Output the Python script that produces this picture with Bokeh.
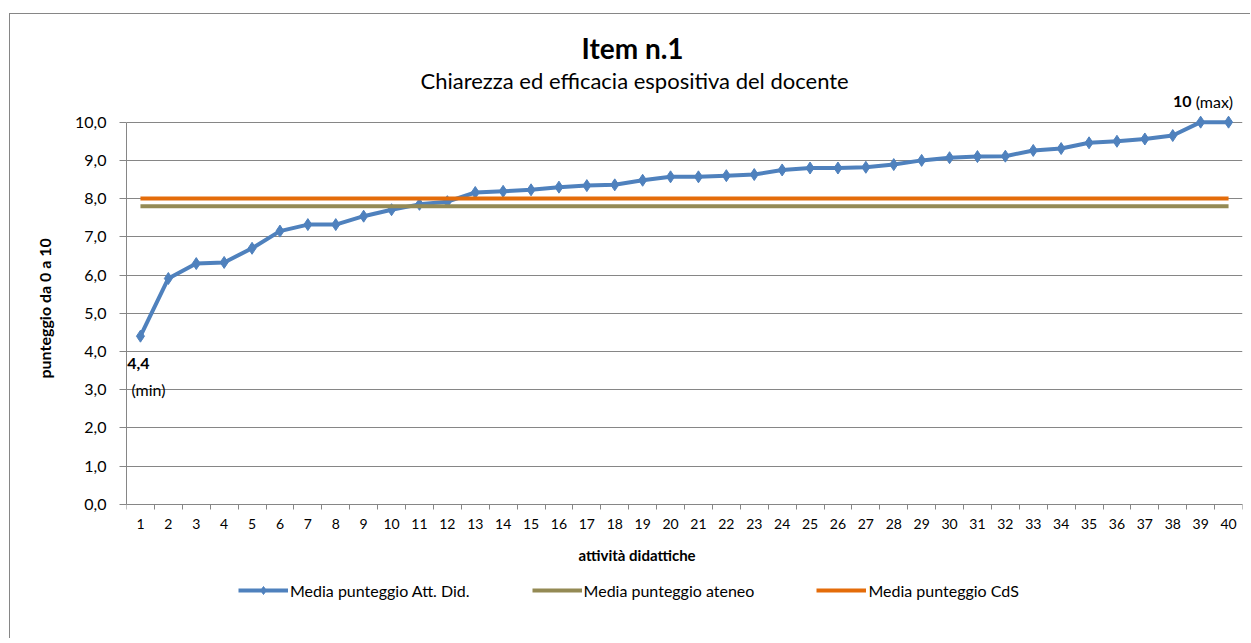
from bokeh.plotting import figure
from bokeh.models import FixedTicker, Legend, LegendItem, Label, Title, Range1d, ColumnDataSource
from bokeh.embed import file_html
from bokeh.resources import INLINE

# ---- data ----
categories = list(range(1, 41))
media_att_did = [4.40, 5.91, 6.30, 6.33, 6.70, 7.15, 7.32, 7.32, 7.54, 7.71,
                 7.85, 7.92, 8.16, 8.19, 8.23, 8.30, 8.34, 8.36, 8.48, 8.57,
                 8.57, 8.60, 8.63, 8.75, 8.80, 8.80, 8.82, 8.89, 9.00, 9.07,
                 9.10, 9.11, 9.26, 9.31, 9.46, 9.50, 9.56, 9.65, 10.00, 10.00]
media_ateneo = [7.8] * 40
media_cds = [8.0] * 40
y_ticks = [0, 1, 2, 3, 4, 5, 6, 7, 8, 9, 10]
y_tick_labels = ["0,0", "1,0", "2,0", "3,0", "4,0", "5,0", "6,0", "7,0", "8,0", "9,0", "10,0"]
series_names = ["Media punteggio Att. Did.", "Media punteggio ateneo", "Media punteggio CdS"]
title_text = "Item n.1"
subtitle_text = "Chiarezza ed efficacia espositiva del docente"
x_label = "attività didattiche"
y_label = "punteggio da 0 a 10"
min_value_text, min_tag = "4,4", "(min)"
max_value_text, max_tag = "10", "(max)"

FONT = "Lato"
BLUE = "#4F81BD"
OLIVE = "#948A54"
ORANGE = "#E46C0A"
GRAY = "#868686"

src = ColumnDataSource(dict(x=categories, att=media_att_did, ateneo=media_ateneo, cds=media_cds))

# The frame is taller than the 0-10 scale: a little room above 10 for the "10 (max)" label and
# room below 0 for the x axis (pinned at 0), its title and the legend.
p = figure(frame_width=1116, frame_height=537, x_range=Range1d(0.5, 40.5), y_range=Range1d(-3.3, 10.75),
           output_backend="svg", toolbar_location=None,
           min_border_left=116, min_border_right=8, min_border_top=79, min_border_bottom=8)
p.margin = (13, 0, 0, 9)
p.styles = {"border-left": "1px solid #868686", "border-top": "1px solid #868686"}
p.outline_line_color = None
p.background_fill_color = "white"
p.border_fill_color = "white"

# titles (subtitle first, so the main title sits above it)
p.add_layout(Title(text=subtitle_text, align="left", offset=294, text_font=FONT, text_font_size="22px",
                   text_font_style="normal", text_color="black", standoff=0), "above")
p.add_layout(Title(text=title_text, align="left", offset=455, text_font=FONT, text_font_size="28px",
                   text_font_style="bold", text_color="black", standoff=0), "above")

# grid
p.xgrid.visible = False
p.ygrid.grid_line_color = GRAY
p.ygrid.grid_line_width = 1

# y axis
p.yaxis.ticker = FixedTicker(ticks=y_ticks, minor_ticks=[])
p.yaxis.bounds = (y_ticks[0], y_ticks[-1])
p.yaxis.major_label_overrides = {t: l for t, l in zip(y_ticks, y_tick_labels)}
p.yaxis.axis_line_color = GRAY
p.yaxis.major_tick_line_color = GRAY
p.yaxis.major_tick_out = 7
p.yaxis.major_tick_in = 0
p.yaxis.minor_tick_line_color = None
p.yaxis.major_label_text_font = FONT
p.yaxis.major_label_text_font_size = "16px"
p.yaxis.major_label_text_color = "black"
p.yaxis.major_label_standoff = 13

# y axis title (rotated, outside the tick labels)
p.add_layout(Title(text=y_label, align="left", offset=252, text_font=FONT, text_font_size="16px",
                   text_font_style="bold", text_color="black", standoff=37), "left")

# x axis, pinned at y = 0
p.xaxis.fixed_location = 0
p.xaxis.ticker = FixedTicker(ticks=categories, minor_ticks=[c - 0.5 for c in categories] + [categories[-1] + 0.5])
p.xaxis.axis_line_color = GRAY
p.xaxis.major_tick_line_color = None
p.xaxis.major_tick_out = 5
p.xaxis.major_tick_in = 0
p.xaxis.minor_tick_line_color = GRAY
p.xaxis.minor_tick_out = 5
p.xaxis.minor_tick_in = 0
p.xaxis.major_label_text_font = FONT
p.xaxis.major_label_text_font_size = "14px"
p.xaxis.major_label_text_color = "black"
p.xaxis.major_label_standoff = 10

# x axis title
p.add_layout(Label(x=18.8, y=0, y_offset=-51, text=x_label, text_font=FONT, text_font_size="15px",
                   text_font_style="bold", text_color="black", text_align="center",
                   text_baseline="middle"))

# series
r_att_line = p.line("x", "att", source=src, line_color=BLUE, line_width=4, line_join="round")
r_att_pts = p.scatter("x", "att", source=src, marker="diamond", size=12,
                      fill_color=BLUE, line_color=BLUE)
r_ateneo = p.line("x", "ateneo", source=src, line_color=OLIVE, line_width=4)
r_cds = p.line("x", "cds", source=src, line_color=ORANGE, line_width=4)

# data labels for min / max
imin = media_att_did.index(min(media_att_did))
imax = media_att_did.index(max(media_att_did))
p.add_layout(Label(x=categories[imin], y=media_att_did[imin], text=min_value_text, text_font=FONT,
                   text_font_size="16px", text_font_style="bold", text_color="black", text_align="center",
                   text_baseline="middle", x_offset=-2, y_offset=-27))
p.add_layout(Label(x=categories[imin], y=media_att_did[imin], text=min_tag, text_font=FONT,
                   text_font_size="16px", text_color="black", text_align="center",
                   text_baseline="middle", x_offset=8, y_offset=-53))
p.add_layout(Label(x=categories[imax], y=media_att_did[imax], text=max_value_text, text_font=FONT,
                   text_font_size="16px", text_font_style="bold", text_color="black", text_align="right",
                   text_baseline="middle", x_offset=-9, y_offset=21))
p.add_layout(Label(x=categories[imax], y=media_att_did[imax], text=max_tag, text_font=FONT,
                   text_font_size="16px", text_color="black", text_align="left",
                   text_baseline="middle", x_offset=-5, y_offset=21))

legend = Legend(items=[LegendItem(label=series_names[0], renderers=[r_att_line, r_att_pts]),
                       LegendItem(label=series_names[1], renderers=[r_ateneo]),
                       LegendItem(label=series_names[2], renderers=[r_cds])],
                orientation="horizontal", location=(112, 30),
                label_text_font=FONT, label_text_font_size="16px", label_text_color="black",
                glyph_width=50, label_standoff=2, spacing=62, border_line_color=None,
                background_fill_alpha=0, margin=0, padding=0)
p.add_layout(legend)

open("out.html", "w").write(file_html(p, INLINE))
